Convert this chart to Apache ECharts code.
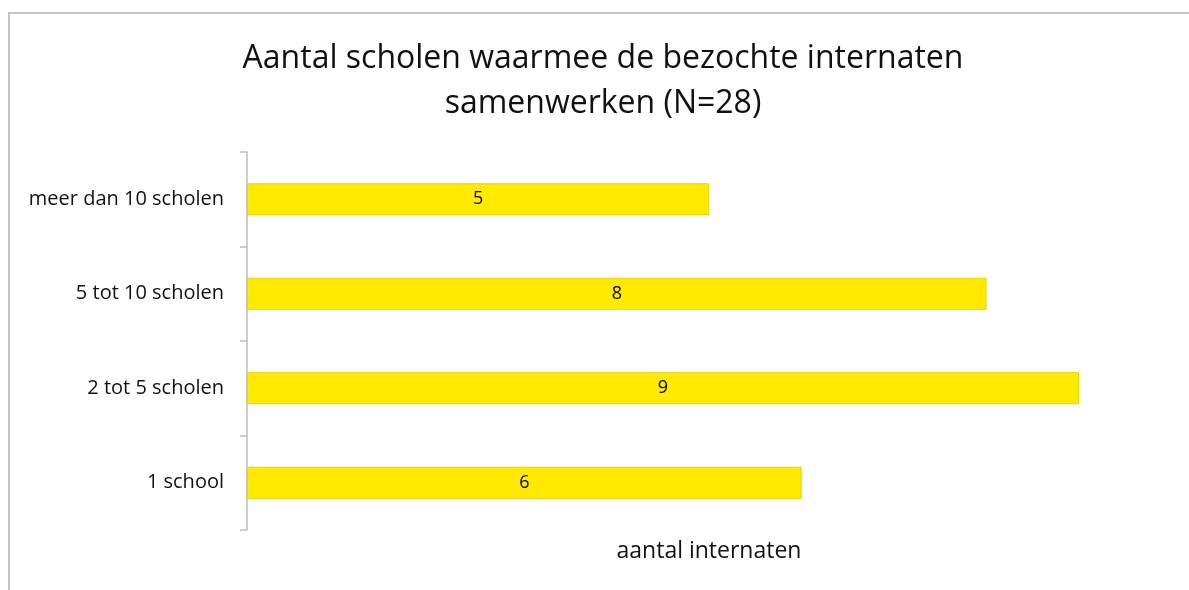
<!DOCTYPE html>
<html>
<head>
<meta charset="utf-8">
<script src="https://cdn.jsdelivr.net/npm/echarts@6/dist/echarts.min.js"></script>
<style>
  html, body { margin: 0; padding: 0; background: #fff; }
  #chart { width: 1189px; height: 590px; }
</style>
</head>
<body>
<div id="chart"></div>
<script>
// categories from bottom to top
var categories = ['1 school', '2 tot 5 scholen', '5 tot 10 scholen', 'meer dan 10 scholen'];
var internaten = [6, 9, 8, 5];

var myChart = echarts.init(document.getElementById('chart'));
myChart.setOption({
    backgroundColor: '#fff',
    animation: false,
    title: [{
        text: 'Aantal scholen waarmee de bezochte internaten\nsamenwerken (N=28)',
        left: 598,
        top: 31,
        textAlign: 'center',
        textStyle: {
            fontFamily: 'Open Sans',
            fontWeight: 'normal',
            fontSize: 32,
            lineHeight: 45,
            color: '#111'
        }
    }, {
        text: 'aantal internaten',
        left: 704,
        top: 535,
        textAlign: 'center',
        textStyle: {
            fontFamily: 'Open Sans',
            fontWeight: 'normal',
            fontSize: 23,
            color: '#111'
        }
    }],
    graphic: [{
        type: 'rect',
        shape: { x: 9, y: 13, width: 1400, height: 800 },
        style: { fill: 'none', stroke: '#c4c4c4', lineWidth: 2 },
        silent: true
    }],
    grid: {
        left: 247,
        right: 110,
        top: 152,
        bottom: 60
    },
    xAxis: {
        type: 'value',
        min: 0,
        max: 9,
        show: false
    },
    yAxis: {
        type: 'category',
        data: categories,
        axisLine: { lineStyle: { color: '#bdbdbd', width: 1.5 } },
        axisTick: { show: true, length: 7, lineStyle: { color: '#bdbdbd', width: 1.5 } },
        axisLabel: {
            fontFamily: 'Open Sans',
            fontSize: 20,
            color: '#111',
            margin: 23
        }
    },
    series: [{
        type: 'bar',
        data: internaten,
        barWidth: 32,
        itemStyle: {
            color: '#ffea00',
            borderColor: '#e8d200',
            borderWidth: 1
        },
        label: {
            show: true,
            position: 'inside',
            fontFamily: 'Open Sans',
            fontSize: 18,
            color: '#000'
        }
    }]
});
</script>
</body>
</html>
